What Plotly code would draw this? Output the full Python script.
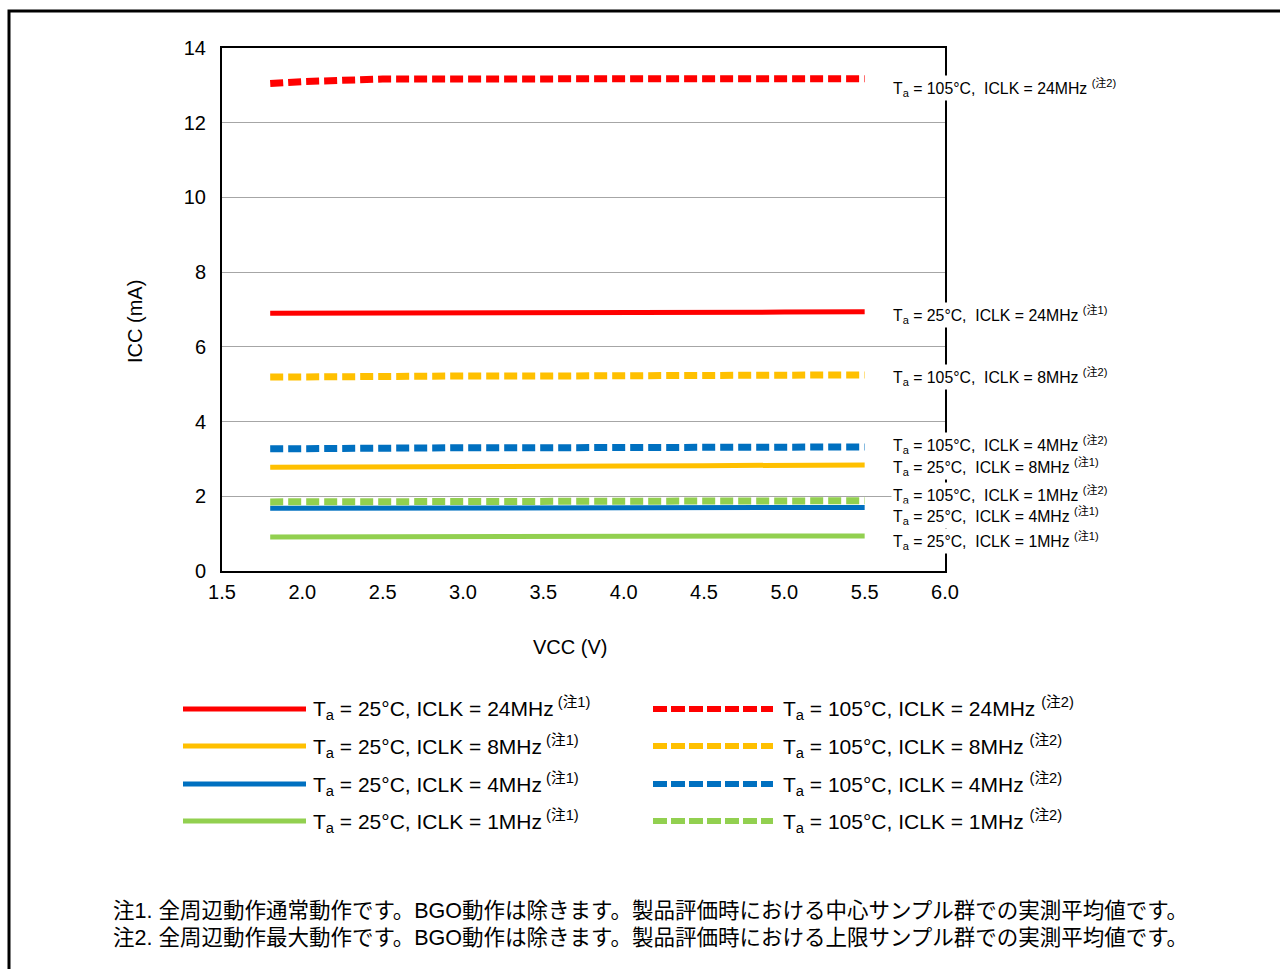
import plotly.graph_objects as go

# ---------------- data ----------------
vcc = [1.8, 2.0, 2.5, 3.0, 3.5, 4.0, 4.5, 5.0, 5.5]

icc_25_24 = [6.90, 6.90, 6.91, 6.91, 6.92, 6.92, 6.93, 6.93, 6.94]
icc_25_8 = [2.78, 2.78, 2.79, 2.80, 2.80, 2.81, 2.82, 2.83, 2.84]
icc_25_4 = [1.68, 1.68, 1.68, 1.69, 1.69, 1.69, 1.70, 1.70, 1.70]
icc_25_1 = [0.91, 0.91, 0.92, 0.92, 0.92, 0.93, 0.93, 0.94, 0.94]
icc_105_24 = [13.05, 13.10, 13.17, 13.17, 13.17, 13.17, 13.18, 13.18, 13.18]
icc_105_8 = [5.19, 5.20, 5.21, 5.22, 5.22, 5.23, 5.24, 5.24, 5.25]
icc_105_4 = [3.27, 3.28, 3.29, 3.30, 3.30, 3.31, 3.31, 3.32, 3.32]
icc_105_1 = [1.85, 1.85, 1.86, 1.86, 1.86, 1.87, 1.87, 1.87, 1.88]

series_names = [
    "T<sub>a</sub> = 25°C, ICLK = 24MHz<sup> (注1)</sup>",
    "T<sub>a</sub> = 25°C, ICLK = 8MHz<sup> (注1)</sup>",
    "T<sub>a</sub> = 25°C, ICLK = 4MHz<sup> (注1)</sup>",
    "T<sub>a</sub> = 25°C, ICLK = 1MHz<sup> (注1)</sup>",
    "T<sub>a</sub> = 105°C, ICLK = 24MHz <sup>(注2)</sup>",
    "T<sub>a</sub> = 105°C, ICLK = 8MHz <sup>(注2)</sup>",
    "T<sub>a</sub> = 105°C, ICLK = 4MHz <sup>(注2)</sup>",
    "T<sub>a</sub> = 105°C, ICLK = 1MHz <sup>(注2)</sup>",
]
series_values = [icc_25_24, icc_25_8, icc_25_4, icc_25_1,
                 icc_105_24, icc_105_8, icc_105_4, icc_105_1]
series_colors = ["#ff0000", "#ffc000", "#0070c0", "#92d050",
                 "#ff0000", "#ffc000", "#0070c0", "#92d050"]
series_dashed = [False, False, False, False, True, True, True, True]

# labels placed at right of the plot
right_labels = [
    ("T<sub>a</sub> = 105°C,&nbsp; ICLK = 24MHz <sup>(注2)</sup>", 12.93),
    ("T<sub>a</sub> = 25°C,&nbsp; ICLK = 24MHz <sup>(注1)</sup>", 6.85),
    ("T<sub>a</sub> = 105°C,&nbsp; ICLK = 8MHz <sup>(注2)</sup>", 5.19),
    ("T<sub>a</sub> = 105°C,&nbsp; ICLK = 4MHz <sup>(注2)</sup>", 3.37),
    ("T<sub>a</sub> = 25°C,&nbsp; ICLK = 8MHz <sup>(注1)</sup>", 2.78),
    ("T<sub>a</sub> = 105°C,&nbsp; ICLK = 1MHz <sup>(注2)</sup>", 2.03),
    ("T<sub>a</sub> = 25°C,&nbsp; ICLK = 4MHz <sup>(注1)</sup>", 1.47),
    ("T<sub>a</sub> = 25°C,&nbsp; ICLK = 1MHz <sup>(注1)</sup>", 0.80),
]

x_title = "VCC (V)"
y_title = "ICC (mA)"

footnotes = [
    "注1. 全周辺動作通常動作です。BGO動作は除きます。製品評価時における中心サンプル群での実測平均値です。",
    "注2. 全周辺動作最大動作です。BGO動作は除きます。製品評価時における上限サンプル群での実測平均値です。",
]

# ---------------- layout helpers ----------------
W, H = 1280, 969
L, R, T, B = 222, 945, 48, 571
FONT = "Liberation Sans, Arial, Noto Sans CJK JP, sans-serif"


def px(xp):
    return (xp - L) / (R - L)


def py(yp):
    return (B - yp) / (B - T)


fig = go.Figure()

for name, vals, col, dashed in zip(series_names, series_values, series_colors, series_dashed):
    fig.add_trace(go.Scatter(
        x=vcc, y=vals, mode="lines", name=name, showlegend=False,
        line=dict(color=col, width=7 if dashed else 5,
                  dash="13px,5px" if dashed else "solid"),
    ))

annotations = []
shapes = []

# right-hand labels
for txt, yv in right_labels:
    annotations.append(dict(
        x=px(891), xref="paper", y=yv, yref="y", text=txt, showarrow=False,
        xanchor="left", yanchor="middle", bgcolor="white", borderpad=1,
        font=dict(family=FONT, size=15.8, color="#000000"),
    ))

# axis titles
annotations.append(dict(
    x=px(570), xref="paper", y=py(647), yref="paper", text=x_title,
    showarrow=False, xanchor="center", yanchor="middle",
    font=dict(family=FONT, size=20, color="#000000"),
))
annotations.append(dict(
    x=px(135), xref="paper", y=py(322), yref="paper", text=y_title,
    showarrow=False, xanchor="center", yanchor="middle", textangle=-90,
    font=dict(family=FONT, size=20, color="#000000"),
))

# custom legend (two columns)
leg_rows = [709, 746, 784, 821]
for i, (name, col, dashed) in enumerate(zip(series_names, series_colors, series_dashed)):
    row = leg_rows[i % 4]
    if not dashed:
        x0, x1, xt = 183, 306, 311
    else:
        x0, x1, xt = 653, 773, 781
    shapes.append(dict(
        type="line", xref="paper", yref="paper",
        x0=px(x0), x1=px(x1), y0=py(row), y1=py(row),
        line=dict(color=col, width=6 if dashed else 5,
                  dash="14px,4px" if dashed else "solid"),
    ))
    annotations.append(dict(
        x=px(xt), xref="paper", y=py(row), yref="paper", text=name,
        showarrow=False, xanchor="left", yanchor="middle",
        font=dict(family=FONT, size=21, color="#000000"),
    ))

# footnotes
for fn, yrow in zip(footnotes, [911, 938]):
    annotations.append(dict(
        x=px(111), xref="paper", y=py(yrow), yref="paper", text=fn,
        showarrow=False, xanchor="left", yanchor="middle",
        font=dict(family=FONT, size=21.5, color="#000000"),
    ))

# outer frame
shapes.append(dict(
    type="rect", xref="paper", yref="paper",
    x0=px(9), x1=px(1300), y0=py(1000), y1=py(11),
    line=dict(color="black", width=3), fillcolor="rgba(0,0,0,0)", layer="below",
))

fig.update_layout(
    width=W, height=H,
    margin=dict(l=L, r=W - R, t=T, b=H - B),
    paper_bgcolor="white", plot_bgcolor="white",
    font=dict(family=FONT, size=20, color="#000000"),
    annotations=annotations, shapes=shapes,
    showlegend=False,
)

fig.update_xaxes(
    range=[1.5, 6.0], dtick=0.5, tick0=1.5, tickformat=".1f",
    showgrid=False, zeroline=False,
    showline=True, linecolor="black", linewidth=2, mirror=True,
    ticks="", ticklabelstandoff=2,
    tickfont=dict(family=FONT, size=20),
)
fig.update_yaxes(
    range=[0, 14], dtick=2, tick0=0,
    showgrid=True, gridcolor="#a6a6a6", gridwidth=1, zeroline=False,
    showline=True, linecolor="black", linewidth=2, mirror=True,
    ticks="", ticklabelstandoff=10,
    tickfont=dict(family=FONT, size=20),
)

fig.write_html("out.html", config={"displayModeBar": False},
               post_script="document.body.style.margin='0';")
